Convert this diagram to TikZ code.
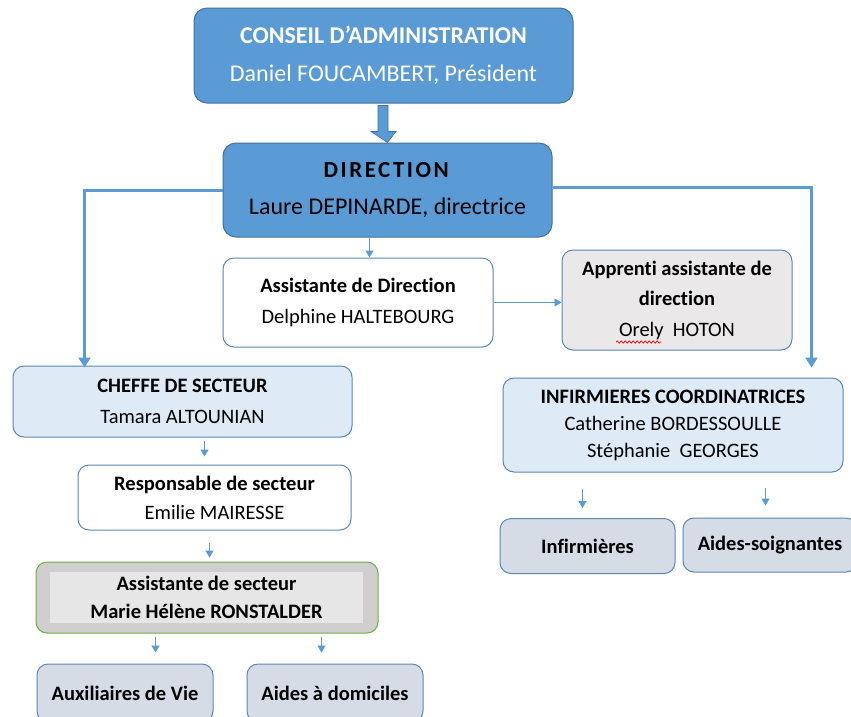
\documentclass[tikz,border=0pt]{standalone}
\usepackage{fontspec}
\setmainfont{Carlito}[Ligatures=NoCommon]
\usetikzlibrary{arrows.meta,calc,decorations.pathmorphing}
\definecolor{dblue}{HTML}{5B9BD5}
\definecolor{dborder}{HTML}{41719C}
\definecolor{lblue}{HTML}{DEEBF7}
\definecolor{sbord}{HTML}{5B85B5}
\definecolor{lgray}{HTML}{EAE8E8}
\definecolor{steel}{HTML}{D6DCE5}
\definecolor{mgray}{HTML}{D0CECE}
\definecolor{ggreen}{HTML}{70AD47}
\definecolor{igray}{HTML}{E7E6E6}
\begin{document}
\begin{tikzpicture}[x=1pt,y=-1pt,
  box/.style={draw=sbord, rounded corners=11pt, inner sep=0pt, align=center, line width=1pt, text=black},
  bigbox/.style={box, fill=dblue, draw=dborder, rounded corners=13pt, font=\fontsize{24}{37}\selectfont},
  smallfont/.style={font=\fontsize{20.5}{31}\selectfont},
  bigarrow/.style={draw=dblue, line width=3pt, -{Triangle[width=12pt,length=10pt]}},
  smallarrow/.style={draw=dblue, line width=1.2pt, -{Triangle[width=8pt,length=7pt]}},
  thinarrow/.style={draw=dblue, line width=0.8pt, -{Triangle[width=8pt,length=7pt]}}
]
\clip (0,0) rectangle (851,716);
\fill[white] (0,0) rectangle (851,716);

% top boxes
\node[bigbox, text=white, minimum width=379pt, minimum height=95pt, font=\fontsize{24}{38}\selectfont] (cons) at (383.5,55.5)
  {\textbf{CONSEIL D’ADMINISTRATION}\\Daniel FOUCAMBERT, Président};
\node[bigbox, minimum width=329pt, minimum height=94pt] (dir) at (387.5,190)
  {{\fontsize{23}{37}\selectfont\addfontfeature{LetterSpace=11}\textbf{DIRECTION}}\\Laure DEPINARDE, directrice};

% block arrow
\filldraw[fill=dblue, draw=dborder, line width=0.6pt]
  ($(cons.south)+(-5.5,2)$) -- ($(cons.south)+(4.5,2)$) -- ($(cons.south)+(4.5,28)$) -- ($(cons.south)+(12.5,28)$)
  -- ($(dir.north)+(0,0)$) -- ($(cons.south)+(-12.5,28)$) -- ($(cons.south)+(-5.5,28)$) -- cycle;

\node[box, smallfont, fill=white, minimum width=270pt, minimum height=89pt] (asd) at (358,302.5)
  {\textbf{Assistante de Direction}\\Delphine HALTEBOURG};
\node[box, fill=lgray, minimum width=230pt, minimum height=100pt, font=\fontsize{20.5}{30.5}\selectfont] (app) at (677,300)
  {\textbf{Apprenti assistante de}\\\textbf{direction}\\Orely~~HOTON};
\draw[red, line width=0.7pt, decorate, decoration={snake, amplitude=1.2pt, segment length=4pt}] (616,342) -- (661,342);

% left branch
\node[box, smallfont, fill=lblue, minimum width=339pt, minimum height=71pt] (chef) at (182.5,401.5)
  {\textbf{CHEFFE DE SECTEUR}\\Tamara ALTOUNIAN};
\node[box, fill=white, minimum width=273pt, minimum height=65pt, font=\fontsize{20.5}{29}\selectfont] (resp) at (214.5,497.5)
  {\textbf{Responsable de secteur}\\Emilie MAIRESSE};
\node[box, draw=ggreen, fill=mgray, minimum width=342pt, minimum height=71pt] (asec) at (207,597.5) {};
\node[fill=igray, inner sep=0pt, minimum width=313pt, minimum height=51pt, align=center, font=\fontsize{20.5}{28}\selectfont] (asecin) at (206.5,597.5)
  {\textbf{Assistante de secteur}\\\textbf{Marie Hélène RONSTALDER}};
\node[box, smallfont, fill=steel, minimum width=176pt, minimum height=58pt] (aux) at (125,693) {\textbf{Auxiliaires de Vie}};
\node[box, smallfont, fill=steel, minimum width=176pt, minimum height=58pt] (adom) at (335,693) {\textbf{Aides à domiciles}};

% right branch
\node[box, fill=lblue, minimum width=340pt, minimum height=94pt, font=\fontsize{20.5}{27}\selectfont] (inf) at (673,425)
  {\textbf{INFIRMIERES COORDINATRICES}\\Catherine BORDESSOULLE\\Stéphanie~~GEORGES};
\node[box, smallfont, fill=steel, minimum width=175pt, minimum height=55pt] (infi) at (587.5,546) {\textbf{Infirmières}};
\node[box, smallfont, fill=steel, minimum width=174pt, minimum height=54pt] (aso) at (770,545) {\textbf{Aides-soignantes}};

% connectors
\draw[bigarrow] (dir.west) -| ($(chef.north west)+(72,2)$);
\draw[bigarrow] ($(dir.east)+(0,-3)$) -| ($(inf.north west)+(309,-10)$);
\draw[smallarrow] ($(dir.south west)+(147,0)$) -- ($(asd.north west)+(147,0)$);
\draw[thinarrow] (asd.east) -- (asd.east -| app.west);
\draw[smallarrow] ($(chef.south west)+(192,3)$) -- ($(resp.north west)+(127,-8)$);
\draw[smallarrow] ($(resp.south west)+(132,12)$) -- ($(asec.north west)+(174,-4)$);
\draw[smallarrow] ($(asec.south west)+(120,3)$) -- ($(aux.north west)+(119,-11)$);
\draw[smallarrow] ($(asec.south west)+(286,3)$) -- ($(adom.north west)+(75,-11)$);
\draw[smallarrow] ($(inf.south west)+(80,16)$) -- ($(infi.north west)+(83,-10)$);
\draw[smallarrow] ($(inf.south west)+(263,15)$) -- ($(aso.north west)+(83,-12)$);
\end{tikzpicture}
\end{document}
